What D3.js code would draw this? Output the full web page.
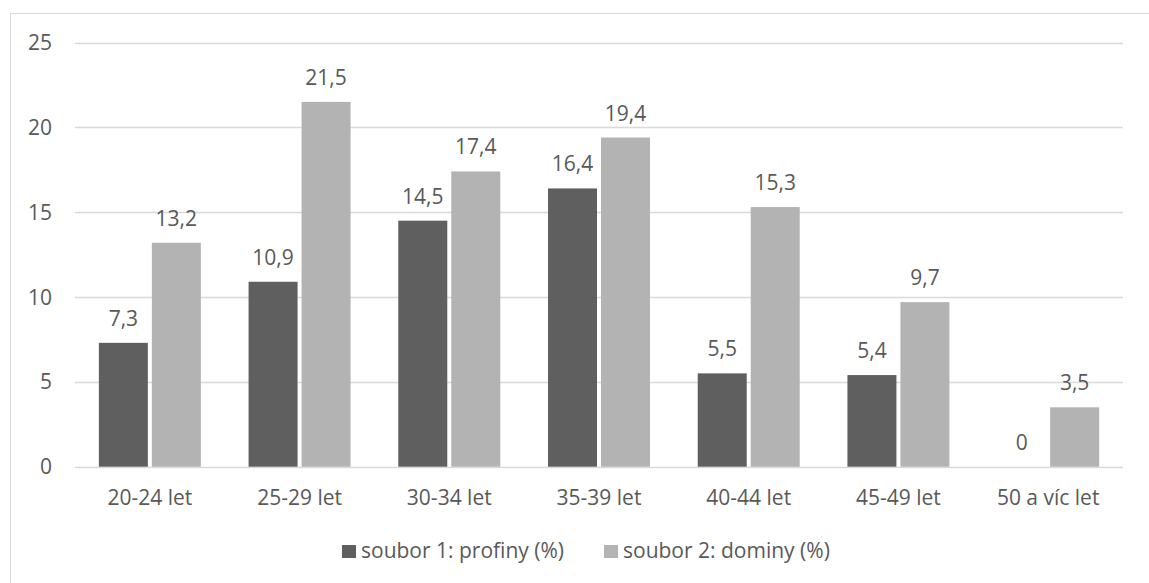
<!DOCTYPE html>
<html><head><meta charset="utf-8">
<script src="https://cdn.jsdelivr.net/npm/d3@7"></script>
<style>body{margin:0;background:#fff}svg{display:block}</style>
</head><body>
<svg id="c" width="1149" height="583"></svg>
<script>
const categories = ["20-24 let","25-29 let","30-34 let","35-39 let","40-44 let","45-49 let","50 a víc let"];
const series1 = [7.3,10.9,14.5,16.4,5.5,5.4,0];
const series2 = [13.2,21.5,17.4,19.4,15.3,9.7,3.5];
const seriesNames = ["soubor 1: profiny (%)","soubor 2: dominy (%)"];
const yTicks = [0,5,10,15,20,25];

(function(){
const colors = ["#5f5f5f","#b3b3b3"];
const textColor = "#595959";
const font = "'Open Sans', sans-serif";
const fs = 21;
const svg = d3.select("#c");
svg.append("rect").attr("x",10.5).attr("y",13.5).attr("width",1200).attr("height",600)
  .attr("fill","#fff").attr("stroke","#d9d9d9").attr("stroke-width",1);

const pLeft=75, pRight=1123, pTop=42.5, pBottom=466.7;
const x = d3.scaleBand().domain(categories).range([pLeft,pRight]).paddingInner(0).paddingOuter(0);
const y = d3.scaleLinear().domain([0,25]).range([pBottom,pTop]);
const barW = 49, gap = 4;

const grid = svg.append("g");
grid.selectAll("line").data(yTicks).join("line")
  .attr("x1",pLeft).attr("x2",pRight).attr("y1",d=>Math.round(y(d))+0.5).attr("y2",d=>Math.round(y(d))+0.5)
  .attr("stroke","#d9d9d9").attr("stroke-width",1.5);

svg.append("g").selectAll("text").data(yTicks).join("text")
  .attr("x",52).attr("y",d=>y(d)).attr("dy","0.36em").attr("text-anchor","end")
  .attr("font-family",font).attr("font-size",fs).attr("fill",textColor).text(d=>d);

const data = [series1,series2];
data.forEach((s,si)=>{
  const g = svg.append("g");
  const bx = (c)=> x(c)+x.bandwidth()/2 + (si===0 ? -gap/2-barW : gap/2);
  g.selectAll("rect").data(s).join("rect")
    .attr("x",(d,i)=>bx(categories[i])).attr("width",barW)
    .attr("y",d=>y(d)).attr("height",d=>y(0)-y(d)).attr("fill",colors[si]);
  g.selectAll("text").data(s).join("text")
    .attr("x",(d,i)=>bx(categories[i])+barW/2).attr("y",d=>y(d)-17)
    .attr("text-anchor","middle").attr("font-family",font).attr("font-size",fs).attr("fill",textColor)
    .text(d=>String(d).replace(".",","));
});

svg.append("g").selectAll("text").data(categories).join("text")
  .attr("x",d=>x(d)+x.bandwidth()/2).attr("y",505).attr("text-anchor","middle")
  .attr("font-family",font).attr("font-size",fs).attr("fill",textColor).text(d=>d);

const legX = [342,604];
seriesNames.forEach((n,i)=>{
  svg.append("rect").attr("x",legX[i]).attr("y",545).attr("width",14).attr("height",13).attr("fill",colors[i]);
  svg.append("text").attr("x",legX[i]+19).attr("y",558).attr("font-family",font).attr("font-size",fs)
    .attr("fill",textColor).text(n);
});
})();
</script>
</body></html>
